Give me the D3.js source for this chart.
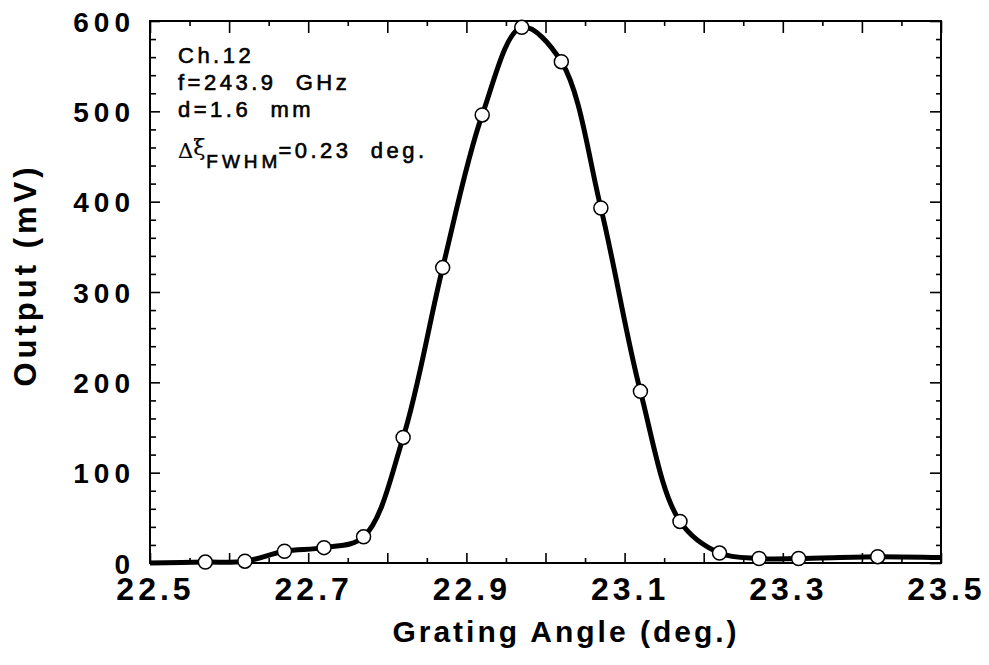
<!DOCTYPE html>
<html><head><meta charset="utf-8">
<script src="https://cdn.jsdelivr.net/npm/d3@7"></script>
<style>body{margin:0;background:#fff} svg{display:block}</style>
</head><body><svg id="c" width="989" height="665"></svg>
<script>
// ---- data ----
const angle  = [22.57,22.62,22.67,22.72,22.77,22.82,22.87,22.92,22.97,23.02,23.07,23.12,23.17,23.22,23.27,23.32,23.42];
const output = [1,2,13,17,29,139,327,496,593,555,393,190,46,11,5,5,7];
const curveStart = {x: 22.5, y: 0};
const curveEnd   = {x: 23.5, y: 6};
const xMajorTicks = d3.range(225, 236).map(d => d / 10);
const xMinorTicks = d3.range(2255, 2350, 10).map(d => d / 100);
const xLabelTicks = [22.5, 22.7, 22.9, 23.1, 23.3, 23.5];
const yMajorTicks = [0, 100, 200, 300, 400, 500, 600];
const yMinorTicks = d3.range(0, 601, 20).filter(d => d % 100 !== 0);
const noteLines = ["Ch.12", "f=243.9  GHz", "d=1.6  mm"];

// ---- layout ----
const L = 150, T = 21, W = 791, H = 542;
const svg = d3.select("#c");
svg.append("rect").attr("width", 989).attr("height", 665).attr("fill", "#fff");
const g = svg.append("g").attr("transform", `translate(${L},${T})`);

const x = d3.scaleLinear().domain([22.5, 23.5]).range([0, W]);
const y = d3.scaleLinear().domain([0, 600]).range([H, 0]);

const fontB = "'Liberation Sans', Arial, Helvetica, sans-serif";

function strip(sel) { sel.select(".domain").remove(); sel.selectAll("line").attr("stroke", "#000").attr("stroke-width", 1.6); }

// bottom axis
g.append("g").attr("transform", `translate(0,${H})`)
  .call(d3.axisBottom(x).tickValues(xMinorTicks).tickSize(-5).tickFormat("")).call(strip);
const xb = g.append("g").attr("transform", `translate(0,${H})`)
  .call(d3.axisBottom(x).tickValues(xMajorTicks).tickSize(-10).tickPadding(0)
    .tickFormat(d => xLabelTicks.some(v => Math.abs(v - d) < 1e-6) ? d3.format(".1f")(d) : ""))
  .call(strip);
xb.selectAll("text").attr("y", 37).attr("dy", 0).attr("dx", 5)
  .attr("font-family", fontB).attr("font-weight", "bold").attr("font-size", 32)
  .attr("letter-spacing", 4).attr("fill", "#000");

// top axis
g.append("g").call(d3.axisTop(x).tickValues(xMinorTicks).tickSize(-5).tickFormat("")).call(strip);
g.append("g").call(d3.axisTop(x).tickValues(xMajorTicks).tickSize(-12).tickFormat("")).call(strip);

// left axis
g.append("g").call(d3.axisLeft(y).tickValues(yMinorTicks).tickSize(-6).tickFormat("")).call(strip);
const yl = g.append("g").call(d3.axisLeft(y).tickValues(yMajorTicks).tickSize(-10).tickFormat(d3.format("d"))).call(strip);
yl.selectAll("text").attr("x", -15).attr("dy", "0.36em")
  .attr("font-family", fontB).attr("font-weight", "bold").attr("font-size", 28)
  .attr("letter-spacing", 5).attr("fill", "#000").attr("text-anchor", "end");

// right axis
g.append("g").attr("transform", `translate(${W},0)`)
  .call(d3.axisRight(y).tickValues(yMinorTicks).tickSize(-5).tickFormat("")).call(strip);
g.append("g").attr("transform", `translate(${W},0)`)
  .call(d3.axisRight(y).tickValues(yMajorTicks).tickSize(-11).tickFormat("")).call(strip);

// frame
g.append("rect").attr("width", W).attr("height", H).attr("fill", "none")
  .attr("stroke", "#000").attr("stroke-width", 2);

// curve
const pts = [curveStart].concat(angle.map((a, i) => ({x: a, y: output[i]}))).concat([curveEnd]);
const line = d3.line().x(d => x(d.x)).y(d => y(d.y)).curve(d3.curveCatmullRom.alpha(0.5));
g.append("path").datum(pts).attr("d", line).attr("fill", "none")
  .attr("stroke", "#000").attr("stroke-width", 5).attr("stroke-linejoin", "round");

// markers
g.selectAll("circle.pt").data(angle.map((a, i) => ({x: a, y: output[i]}))).enter()
  .append("circle").attr("class", "pt")
  .attr("cx", d => x(d.x)).attr("cy", d => y(d.y)).attr("r", 7)
  .attr("fill", "#fff").attr("stroke", "#000").attr("stroke-width", 1.5);

// annotation
const note = svg.append("g").attr("font-family", fontB).attr("font-size", 22).attr("fill", "#000")
  .attr("stroke", "#000").attr("stroke-width", 0.6);
const noteY = [63, 90, 117];
noteLines.forEach((t, i) => {
  note.append("text").attr("x", 178).attr("y", noteY[i]).attr("letter-spacing", 3.5)
    .style("white-space", "pre").text(t);
});
const fw = note.append("text").attr("x", 178).attr("y", 158).style("white-space", "pre");
fw.append("tspan").attr("font-family", "'DejaVu Serif', 'Liberation Serif', serif").attr("font-size", 21).attr("stroke-width", 0.2).text("Δ");
fw.append("tspan").attr("font-family", "'DejaVu Serif', 'Liberation Serif', serif").attr("font-size", 22).attr("stroke-width", 0.2).attr("dy", -3).text("ξ");
fw.append("tspan").attr("font-size", 19).attr("dy", 13).attr("dx", 1).attr("letter-spacing", 4).text("FWHM");
fw.append("tspan").attr("dy", -10).attr("dx", -3).attr("letter-spacing", 3.5).text("=0.23  deg.");

// axis titles
svg.append("text").attr("x", 566).attr("y", 642).attr("text-anchor", "middle")
  .attr("font-family", fontB).attr("font-weight", "bold").attr("font-size", 30)
  .attr("letter-spacing", 3).style("white-space", "pre").text("Grating Angle (deg.)");
svg.append("text").attr("transform", "translate(36,275) rotate(-90)").attr("text-anchor", "middle")
  .attr("font-family", fontB).attr("font-weight", "bold").attr("font-size", 31)
  .attr("letter-spacing", 4).style("white-space", "pre").text("Output (mV)");
</script></body></html>
